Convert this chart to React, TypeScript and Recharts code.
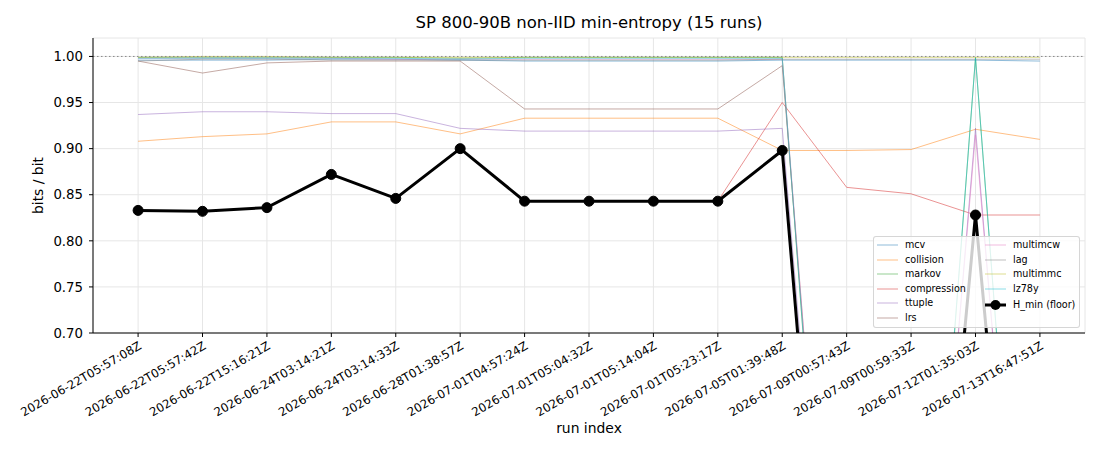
import { CartesianGrid, Legend, Line, LineChart, ReferenceLine, XAxis, YAxis } from "recharts";

const runs = [
  "2026-06-22T05:57:08Z",
  "2026-06-22T05:57:42Z",
  "2026-06-22T15:16:21Z",
  "2026-06-24T03:14:21Z",
  "2026-06-24T03:14:33Z",
  "2026-06-28T01:38:57Z",
  "2026-07-01T04:57:24Z",
  "2026-07-01T05:04:32Z",
  "2026-07-01T05:14:04Z",
  "2026-07-01T05:23:17Z",
  "2026-07-05T01:39:48Z",
  "2026-07-09T00:57:43Z",
  "2026-07-09T00:59:33Z",
  "2026-07-12T01:35:03Z",
  "2026-07-13T16:47:51Z",
];

const mcv = [0.996, 0.996, 0.996, 0.997, 0.997, 0.996, 0.995, 0.995, 0.995, 0.995, 0.996, 0.996, 0.996, 0.996, 0.995];
const collision = [0.908, 0.913, 0.916, 0.929, 0.929, 0.916, 0.933, 0.933, 0.933, 0.933, 0.898, 0.898, 0.899, 0.921, 0.910];
const markov = [0.999, 0.999, 0.999, 0.999, 0.999, 0.998, 0.999, 0.999, 0.999, 0.999, 0.999, 0.07, 0.08, 0.999, 0.08];
const compression = [0.833, 0.832, 0.836, 0.872, 0.846, 0.9, 0.843, 0.843, 0.843, 0.843, 0.95, 0.858, 0.851, 0.828, 0.828];
const ttuple = [0.937, 0.94, 0.94, 0.938, 0.938, 0.922, 0.919, 0.919, 0.919, 0.919, 0.922, 0.1, 0.09, 0.922, 0.09];
const lrs = [0.995, 0.982, 0.993, 0.995, 0.995, 0.995, 0.943, 0.943, 0.943, 0.943, 0.99, 0.12, 0.11, 0.12, 0.11];
const multimcw = [0.998, 0.998, 0.998, 0.998, 0.997, 0.997, 0.997, 0.997, 0.997, 0.997, 0.997, 0.11, 0.1, 0.915, 0.1];
const lag = [0.995, 0.997, 0.997, 0.996, 0.996, 0.996, 0.996, 0.996, 0.996, 0.996, 0.997, 0.997, 0.997, 0.997, 0.997];
const multimmc = [0.999, 1.0, 1.0, 0.999, 0.999, 0.999, 0.999, 0.999, 0.999, 0.999, 0.999, 0.999, 0.999, 0.999, 0.999];
const lz78y = [0.998, 0.998, 0.998, 0.998, 0.998, 0.997, 0.998, 0.998, 0.998, 0.998, 0.998, 0.08, 0.09, 0.998, 0.09];
const hMin = [0.833, 0.832, 0.836, 0.872, 0.846, 0.9, 0.843, 0.843, 0.843, 0.843, 0.898, 0.07, 0.08, 0.828, 0.08];

const yTicks = [0.7, 0.75, 0.8, 0.85, 0.9, 0.95, 1.0];

const estimators = [
  { key: "mcv", values: mcv, color: "#1f77b4" },
  { key: "collision", values: collision, color: "#ff7f0e" },
  { key: "markov", values: markov, color: "#2ca02c" },
  { key: "compression", values: compression, color: "#d62728" },
  { key: "ttuple", values: ttuple, color: "#9467bd" },
  { key: "lrs", values: lrs, color: "#8c564b" },
  { key: "multimcw", values: multimcw, color: "#e377c2" },
  { key: "lag", values: lag, color: "#7f7f7f" },
  { key: "multimmc", values: multimmc, color: "#bcbd22" },
  { key: "lz78y", values: lz78y, color: "#17becf" },
];

const data = runs.map((label, i) => {
  const row: Record<string, number | string> = { i, label, hmin: hMin[i] };
  estimators.forEach((e) => {
    row[e.key] = e.values[i];
  });
  return row;
});

const FONT = "'DejaVu Sans', sans-serif";
const MIN_LABEL = "H_min (floor)";

function RunTick({ x, y, payload }: any) {
  return (
    <g transform={`translate(${x},${y + 2})`}>
      <text textAnchor="end" dy="0.71em" transform="rotate(-30)" fontSize={11.8} fill="#000" fontFamily={FONT}>
        {runs[payload.value]}
      </text>
    </g>
  );
}

// legend in the same order as the series were plotted, two columns of six
function LegendBox() {
  const items = [...estimators.map((e) => ({ name: e.key, color: e.color })), { name: MIN_LABEL, color: "#000" }];
  return (
    <div
      style={{
        position: "relative",
        width: 207,
        height: 92,
        boxSizing: "border-box",
        background: "rgba(255,255,255,0.8)",
        border: "1px solid rgba(204,204,204,0.8)",
        borderRadius: 3,
        fontFamily: FONT,
        fontSize: 9.6,
        color: "#000",
      }}
    >
      {items.map((entry, idx) => {
        const col = idx < 6 ? 0 : 1;
        const row = idx < 6 ? idx : idx - 6;
        const isMin = entry.name === MIN_LABEL;
        const top = 8.2 + row * 14.5 + (isMin ? 1.5 : 0);
        const left = col === 0 ? 3 : 111;
        return (
          <div key={entry.name} style={{ position: "absolute", left, top: top - 6, height: 12, display: "flex", alignItems: "center" }}>
            <svg width={21} height={12} style={{ marginRight: 7 }}>
              {isMin ? (
                <>
                  <line x1={0} y1={6} x2={21} y2={6} stroke="#000" strokeWidth={3} />
                  <circle cx={10.5} cy={6} r={5} fill="#000" />
                </>
              ) : (
                <line x1={0} y1={6} x2={21} y2={6} stroke={entry.color} strokeOpacity={0.5} strokeWidth={1} />
              )}
            </svg>
            <span style={{ lineHeight: "12px", whiteSpace: "nowrap" }}>{entry.name}</span>
          </div>
        );
      })}
    </div>
  );
}

export default function App() {
  return (
    <div style={{ position: "absolute", left: 0, top: 0, width: 1100, height: 450, background: "#fff", fontFamily: FONT }}>
      <div
        style={{
          position: "absolute",
          left: 93,
          top: 12,
          width: 992,
          textAlign: "center",
          fontSize: 16.5,
          lineHeight: "22px",
          color: "#000",
        }}
      >
        SP 800-90B non-IID min-entropy (15 runs)
      </div>
      <LineChart width={1100} height={450} data={data} margin={{ top: 38, right: 15, bottom: 0, left: 0 }}>
        <CartesianGrid stroke="#e6e6e6" strokeWidth={1} />
        <XAxis
          type="number"
          dataKey="i"
          domain={[-0.7, 14.7]}
          ticks={runs.map((_, i) => i)}
          interval={0}
          height={117}
          tick={<RunTick />}
          tickSize={4}
          stroke="#000"
          axisLine={{ stroke: "#000" }}
          tickLine={{ stroke: "#000" }}
          label={{ value: "run index", position: "insideBottom", offset: 17, fill: "#000", fontSize: 13.9, fontFamily: FONT }}
        />
        <YAxis
          type="number"
          domain={[0.7, 1.02]}
          ticks={yTicks}
          allowDataOverflow
          width={93}
          tickSize={4}
          tickMargin={6}
          tickFormatter={(v: number) => v.toFixed(2)}
          tick={{ fill: "#000", fontSize: 13.3, fontFamily: FONT }}
          axisLine={{ stroke: "#000" }}
          tickLine={{ stroke: "#000" }}
          label={{
            value: "bits / bit",
            angle: -90,
            position: "insideLeft",
            offset: 38,
            fill: "#000",
            fontSize: 13.9,
            fontFamily: FONT,
            style: { textAnchor: "middle" },
          }}
        />
        {estimators.map((e) => (
          <Line
            key={e.key}
            dataKey={e.key}
            name={e.key}
            stroke={e.color}
            strokeOpacity={0.5}
            strokeWidth={1}
            dot={false}
            activeDot={false}
            isAnimationActive={false}
          />
        ))}
        <Line
          dataKey="hmin"
          name={MIN_LABEL}
          stroke="#000"
          strokeWidth={3}
          dot={{ r: 5, fill: "#000", stroke: "#000", strokeWidth: 1 }}
          activeDot={false}
          isAnimationActive={false}
        />
        <ReferenceLine y={1} stroke="#888" strokeWidth={1} strokeDasharray="1.5 2.5" />
        <Legend
          layout="vertical"
          align="center"
          verticalAlign="middle"
          content={<LegendBox />}
          wrapperStyle={{ left: 873, top: 236, width: 207, height: 92 }}
        />
      </LineChart>
    </div>
  );
}
